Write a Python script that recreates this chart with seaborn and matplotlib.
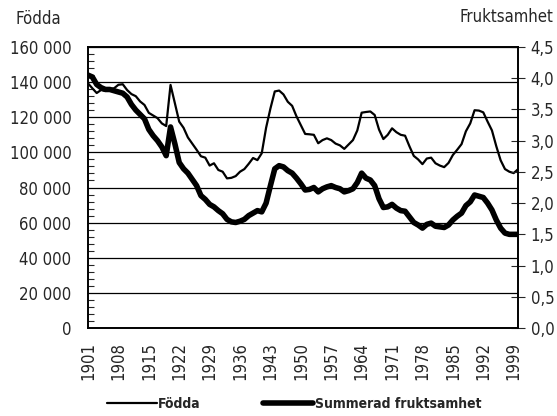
import numpy as np
import pandas as pd
import seaborn as sns
import matplotlib.pyplot as plt
from matplotlib.ticker import MultipleLocator, FuncFormatter

years = list(range(1901, 2001))

# Levande födda per år
fodda = [
    139300, 136500, 133800, 135500, 135000, 136000, 136500, 138500, 138800, 135500,
    133200, 132000, 129000, 127000, 122500, 121000, 119500, 116500, 115000, 138400,
    128000, 117500, 114000, 108500, 105000, 101500, 97800, 97000, 92500, 93800,
    90000, 89000, 85200, 85500, 86500, 89000, 90500, 93500, 96800, 95600,
    99500, 114000, 125000, 134700, 135200, 133000, 128800, 126500, 120500, 115500,
    110500, 110300, 110000, 105200, 107000, 108000, 107000, 105000, 104000, 102000,
    104500, 107000, 112500, 122600, 123000, 123300, 121300, 113000, 107600, 110000,
    113700, 111500, 110000, 109500, 103500, 98000, 96000, 93300, 96500, 97000,
    93800, 92500, 91600, 94000, 98500, 101500, 104700, 112000, 116500, 124000,
    123800, 122800, 117500, 112500, 103500, 95500, 90500, 89000, 88200, 90400,
]

# Summerad fruktsamhet
fruktsamhet = [
    4.05, 4.02, 3.90, 3.85, 3.82, 3.82, 3.80, 3.78, 3.76, 3.70,
    3.58, 3.49, 3.42, 3.35, 3.18, 3.08, 3.00, 2.90, 2.76, 3.22,
    2.95, 2.65, 2.55, 2.48, 2.38, 2.28, 2.12, 2.06, 1.98, 1.94,
    1.88, 1.83, 1.74, 1.70, 1.69, 1.71, 1.74, 1.80, 1.84, 1.88,
    1.86, 2.00, 2.28, 2.55, 2.60, 2.58, 2.52, 2.48, 2.40, 2.31,
    2.21, 2.22, 2.25, 2.18, 2.23, 2.26, 2.28, 2.25, 2.23, 2.18,
    2.20, 2.23, 2.33, 2.48, 2.40, 2.37, 2.28, 2.07, 1.93, 1.94,
    1.98, 1.92, 1.88, 1.87, 1.78, 1.69, 1.65, 1.60, 1.66, 1.68,
    1.63, 1.62, 1.61, 1.65, 1.73, 1.79, 1.84, 1.96, 2.02, 2.13,
    2.11, 2.09, 2.00, 1.89, 1.73, 1.60, 1.52, 1.50, 1.50, 1.50,
]

df = pd.DataFrame({"year": years, "fodda": fodda, "tfr": fruktsamhet})

sns.set_style("white")
plt.rcParams["font.family"] = ["DejaVu Sans"]
plt.rcParams["font.stretch"] = "condensed"
fs = 12

fig = plt.figure(figsize=(5.57, 4.16), dpi=100)
ax = fig.add_axes([0.158, 0.2115, 0.772, 0.6755])
ax2 = ax.twinx()

sns.lineplot(data=df, x="year", y="fodda", color="black", lw=1.6,
             label="Födda", ax=ax, legend=False)
sns.lineplot(data=df, x="year", y="tfr", color="black", lw=4.0,
             label="Summerad fruktsamhet", ax=ax2, legend=False)

# left axis
ax.set_ylim(0, 160000)
ax.yaxis.set_major_locator(MultipleLocator(20000))
ax.yaxis.set_minor_locator(MultipleLocator(4000))
ax.yaxis.set_major_formatter(FuncFormatter(lambda v, p: f"{int(v):,}".replace(",", " ")))
ax.grid(axis="y", color="black", lw=0.9)
ax.set_axisbelow(True)

# x axis
ax.set_xlim(1901, 2000)
ax.set_xticks(years[::7])
ax.xaxis.set_minor_locator(MultipleLocator(1))
ax.tick_params(axis="x", which="both", direction="inout", length=8, width=0.8,
               labelrotation=90, labelsize=fs, pad=6)
ax.tick_params(axis="y", which="major", length=0, labelsize=fs, pad=12)
ax.tick_params(axis="y", which="minor", direction="in", length=4, width=0.8, left=True)
ax.set_xlabel("")
ax.set_ylabel("")

# right axis
ax2.set_ylim(0, 4.5)
ax2.yaxis.set_major_locator(MultipleLocator(0.5))
ax2.yaxis.set_major_formatter(FuncFormatter(lambda v, p: f"{v:.1f}".replace(".", ",")))
ax2.tick_params(axis="y", direction="inout", length=10, width=0.8, labelsize=fs, pad=4)
ax2.set_ylabel("")

for a in (ax, ax2):
    for s in a.spines.values():
        s.set_color("black")
        s.set_linewidth(1.2)

fig.text(0.027, 0.955, "Födda", fontsize=fs, ha="left", va="center")
fig.text(0.993, 0.96, "Fruktsamhet", fontsize=fs, ha="right", va="center")

h1, l1 = ax.get_legend_handles_labels()
h2, l2 = ax2.get_legend_handles_labels()
fig.legend(h1 + h2, l1 + l2, loc="center", bbox_to_anchor=(0.528, 0.028),
           ncol=2, frameon=False, handlelength=3.6, handletextpad=0.1,
           columnspacing=4.5, prop={"size": 10, "weight": "bold", "stretch": "condensed"})

fig.savefig("out.png", dpi=100)
